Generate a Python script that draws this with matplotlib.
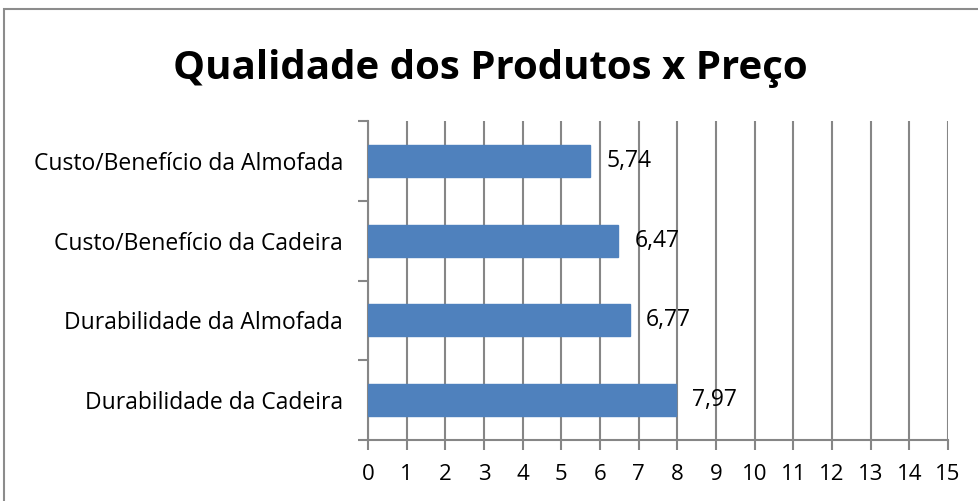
import matplotlib.pyplot as plt
from matplotlib.patches import Rectangle

categories = ["Durabilidade da Cadeira", "Durabilidade da Almofada",
              "Custo/Benefício da Cadeira", "Custo/Benefício da Almofada"]
values = [7.97, 6.77, 6.47, 5.74]
labels = ["7,97", "6,77", "6,47", "5,74"]
xticks = list(range(0, 16))

plt.rcParams['font.family'] = ['Open Sans', 'DejaVu Sans']

fig = plt.figure(figsize=(9.79, 5.01), dpi=100)
ax = fig.add_axes([368/979, 1-440/501, 580/979, 319/501])

# outer chart border (Excel style)
fig.patches.append(Rectangle((4/979, -0.05), 1.2, 1-9/501+0.05,
                             transform=fig.transFigure, fill=False,
                             edgecolor='#8c8c8c', linewidth=1.5))

y = list(range(len(categories)))
ax.barh(y, values, height=0.4, color='#4f81bd', edgecolor='#4f81bd', zorder=3)
for yi, v, lab in zip(y, values, labels):
    ax.text(v + 0.42, yi, lab, va='center', ha='left', fontsize=16.5, zorder=4)

ax.set_xlim(0, 15)
ax.set_ylim(-0.5, 3.5)
ax.set_xticks(xticks)
ax.set_xticklabels([str(t) for t in xticks], fontsize=16)
ax.set_yticks(y)
ax.set_yticklabels(categories, fontsize=16.5)
ax.set_yticks([-0.5, 0.5, 1.5, 2.5, 3.5], minor=True)
ax.tick_params(axis='y', which='major', length=0, pad=18)
ax.tick_params(axis='y', which='minor', length=7, color='#868686', width=1.5)
ax.tick_params(axis='x', length=7, color='#868686', width=1.5, pad=10)

ax.grid(axis='x', color='#868686', linewidth=1.5, zorder=0)
for s in ['top', 'right']:
    ax.spines[s].set_visible(False)
for s in ['left', 'bottom']:
    ax.spines[s].set_color('#868686')
    ax.spines[s].set_linewidth(1.5)

fig.text(490/979, 1-68/501, "Qualidade dos Produtos x Preço", ha='center', va='center',
         fontsize=29, fontweight='bold')

fig.savefig("out.png", dpi=100)
